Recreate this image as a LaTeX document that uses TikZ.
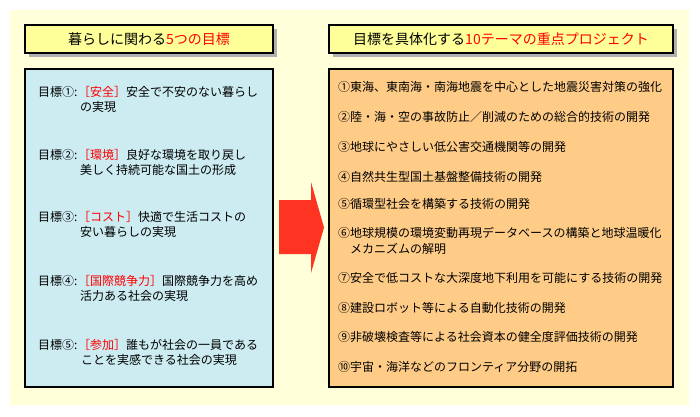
\documentclass[tikz,border=0pt]{standalone}
\usepackage{fontspec}
\setmainfont{Noto Sans CJK JP}
\definecolor{bgy}{RGB}{255,255,217}
\definecolor{titley}{RGB}{255,255,153}
\definecolor{lblue}{RGB}{204,236,242}
\definecolor{peach}{RGB}{255,204,136}
\definecolor{arrowred}{RGB}{255,51,34}
\definecolor{shadowgray}{RGB}{176,176,176}
\definecolor{hred}{RGB}{255,0,0}
\tikzset{
  boxline/.style={draw=black, line width=1.2pt},
  titletext/.style={inner sep=0pt, font=\fontsize{14pt}{16pt}\selectfont},
  itemtext/.style={anchor=west, inner sep=0pt, font=\fontsize{12pt}{15pt}\selectfont},
}
\newcommand{\hl}[1]{\textcolor{hred}{#1}}
\begin{document}
\begin{tikzpicture}[x=1pt,y=-1pt]
\useasboundingbox (0,0) rectangle (700,416);
\fill[white] (0,0) rectangle (700,416);
\fill[bgy] (10,10) rectangle (689,405);
% title boxes with shadows
\fill[shadowgray] (29,29) rectangle (277,57);
\fill[shadowgray] (333,29) rectangle (677,57);
\draw[boxline, fill=titley] (25,25) rectangle (273,53);
\draw[boxline, fill=titley] (329,25) rectangle (673,53);
\node[titletext] (t1) at (149,39) {暮らしに関わる\hl{5つの目標}};
\node[titletext] (t2) at (501,39) {目標を具体化する\hl{10テーマの重点プロジェクト}};
% main boxes
\draw[boxline, fill=lblue] (25,69) rectangle (273,387);
\draw[boxline, fill=peach] (329,69) rectangle (673,387);
% arrow
\fill[arrowred] (279,200) -- (311,200) -- (311,182) -- (324,227.5) -- (311,273) -- (311,254) -- (279,254) -- cycle;
% goals
\node[itemtext] (g1l) at (38,92) {目標①:};
\node[itemtext] (g1a) at (78,92) {\hl{［安全］}安全で不安のない暮らし};
\node[itemtext] (g1b) at (80,107) {の実現};
\node[itemtext] (g2l) at (38,155) {目標②:};
\node[itemtext] (g2a) at (78,155) {\hl{［環境］}良好な環境を取り戻し};
\node[itemtext] (g2b) at (80,170) {美しく持続可能な国土の形成};
\node[itemtext] (g3l) at (38,217) {目標③:};
\node[itemtext] (g3a) at (78,217) {\hl{［コスト］}快適で生活コストの};
\node[itemtext] (g3b) at (80,232) {安い暮らしの実現};
\node[itemtext] (g4l) at (38,281) {目標④:};
\node[itemtext] (g4a) at (78,281) {\hl{［国際競争力］}国際競争力を高め};
\node[itemtext] (g4b) at (80,296) {活力ある社会の実現};
\node[itemtext] (g5l) at (38,345) {目標⑤:};
\node[itemtext] (g5a) at (78,345) {\hl{［参加］}誰もが社会の一員である};
\node[itemtext] (g5b) at (81,360) {ことを実感できる社会の実現};
% projects
\node[itemtext] (p1) at (338,87) {①東海、東南海・南海地震を中心とした地震災害対策の強化};
\node[itemtext] (p2) at (338,117) {②陸・海・空の事故防止／削減のための総合的技術の開発};
\node[itemtext] (p3) at (338,147) {③地球にやさしい低公害交通機関等の開発};
\node[itemtext] (p4) at (338,177) {④自然共生型国土基盤整備技術の開発};
\node[itemtext] (p5) at (338,204) {⑤循環型社会を構築する技術の開発};
\node[itemtext] (p6) at (338,233) {⑥地球規模の環境変動再現データベースの構築と地球温暖化};
\node[itemtext] (p6b) at (350,249) {メカニズムの解明};
\node[itemtext] (p7) at (338,278) {⑦安全で低コストな大深度地下利用を可能にする技術の開発};
\node[itemtext] (p8) at (338,308) {⑧建設ロボット等による自動化技術の開発};
\node[itemtext] (p9) at (338,337) {⑨非破壊検査等による社会資本の健全度評価技術の開発};
\node[itemtext] (p10) at (338,367) {⑩宇宙・海洋などのフロンティア分野の開拓};
\end{tikzpicture}
\end{document}
